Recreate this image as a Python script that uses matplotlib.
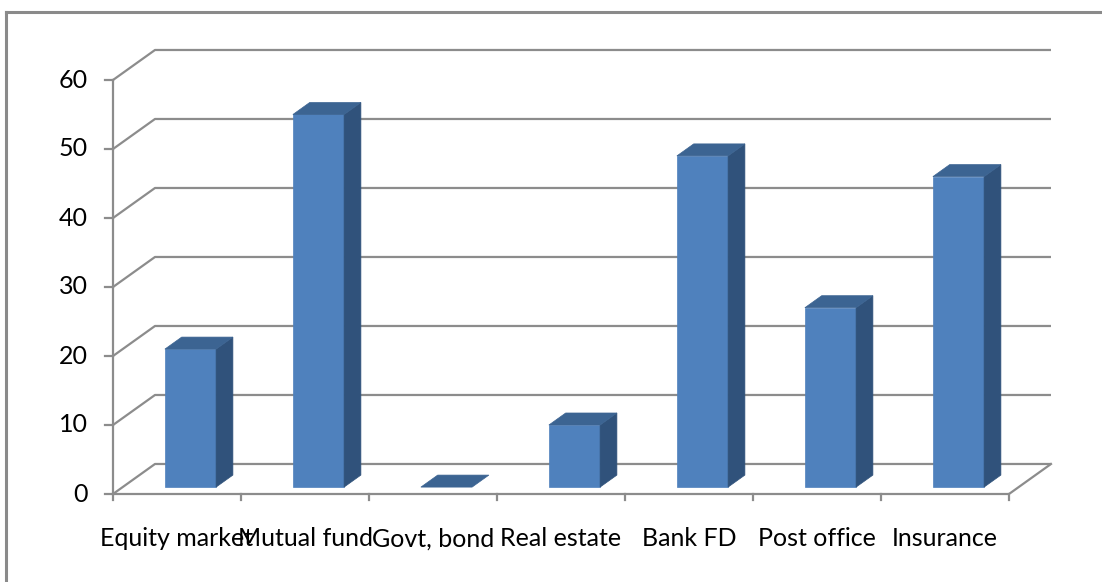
import numpy as np
import matplotlib.pyplot as plt
from matplotlib.patches import Polygon

# investment avenues and number of respondents
categories = ['Equity market', 'Mutual fund', 'Govt, bond', 'Real estate',
              'Bank FD', 'Post office', 'Insurance']
values = [20, 54, 0, 9, 48, 26, 45]
yticks = [0, 10, 20, 30, 40, 50, 60]

# pseudo 3d layout (x in category units, y in value units)
DX, DY = 0.328, 4.35          # full depth offset of the back wall
F0, F1 = 0.23, 0.63           # bar front / back depth fraction
BW = 0.40                     # bar width
BX = 0.33                     # bar left inside category

FRONT = '#4f81bd'
TOP = '#3c6492'
SIDE = '#30527b'
GRID = '#8c8c8c'

plt.rcParams['font.family'] = ['Lato', 'DejaVu Sans']

fig = plt.figure(figsize=(11.02, 5.82), dpi=100)
ax = fig.add_axes([0, 0, 1, 1])
ax.set_xlim(-113 / 128, (1102 - 113) / 128)
ax.set_ylim(-(582 - 494) * 10 / 69, 494 * 10 / 69)
ax.axis('off')

n = len(categories)
ymax = yticks[-1]

# back wall gridlines with the diagonal run to the front axis
for v in yticks:
    ax.plot([0, DX, n + DX], [v, v + DY, v + DY], color=GRID, lw=1.6,
            solid_capstyle='butt', zorder=1)
    ax.plot([-0.065, 0], [v, v], color=GRID, lw=1.6, zorder=1)
    ax.text(-0.195, v, str(v), ha='right', va='center', fontsize=18)

# floor and front axis
ax.plot([0, n, n + DX], [0, 0, DY], color=GRID, lw=1.6, zorder=1)
ax.plot([0, 0], [0, ymax], color=GRID, lw=1.6, zorder=1)
for i in range(n + 1):
    ax.plot([i, i], [0, -0.9], color=GRID, lw=1.6, zorder=1)

# bars
d = F1 - F0
for i, v in enumerate(values):
    x0 = i + BX + F0 * DX
    y0 = F0 * DY
    front = [(x0, y0), (x0 + BW, y0), (x0 + BW, y0 + v), (x0, y0 + v)]
    top = [(x0, y0 + v), (x0 + BW, y0 + v),
           (x0 + BW + d * DX, y0 + v + d * DY), (x0 + d * DX, y0 + v + d * DY)]
    side = [(x0 + BW, y0), (x0 + BW + d * DX, y0 + d * DY),
            (x0 + BW + d * DX, y0 + v + d * DY), (x0 + BW, y0 + v)]
    if v > 0:
        ax.add_patch(Polygon(front, closed=True, fc=FRONT, ec=FRONT, lw=0.5, zorder=3))
        ax.add_patch(Polygon(side, closed=True, fc=SIDE, ec=SIDE, lw=0.5, zorder=3))
    ax.add_patch(Polygon(top, closed=True, fc=TOP, ec=TOP, lw=0.5, zorder=4))

# category labels
for i, c in enumerate(categories):
    ax.text(i + 0.5, -6.5, c, ha='center', va='center', fontsize=18)

# outer frame (top and left edges)
ax.plot([6 / 1102, 1], [1 - 12 / 582, 1 - 12 / 582], color='#8a8a8a', lw=2.2,
        transform=ax.transAxes, clip_on=False)
ax.plot([6 / 1102, 6 / 1102], [0, 1 - 12 / 582], color='#8a8a8a', lw=2.2,
        transform=ax.transAxes, clip_on=False)

plt.savefig('out.png', dpi=100)
